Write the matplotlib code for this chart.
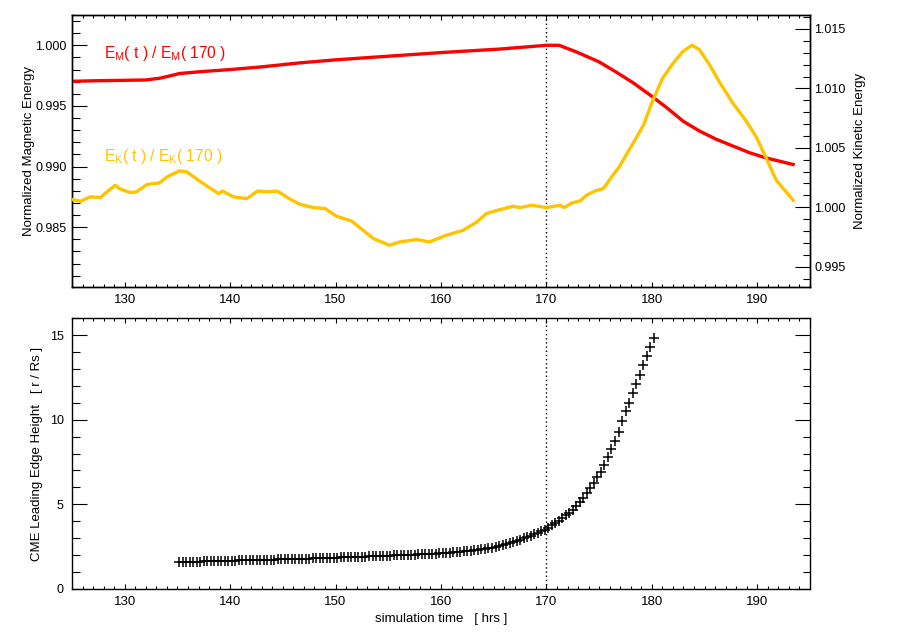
"""
Energy budget and CME leading-edge height vs simulation time.
Top: normalized magnetic (left axis) and kinetic (right axis) energy.
Bottom: CME leading edge height track.
"""

import matplotlib
matplotlib.use('Agg')          # no display
import matplotlib.pyplot as plt
from matplotlib.ticker import MultipleLocator, FormatStrFormatter
import numpy as np

plt.rcParams['font.family'] = ['Liberation Sans', 'DejaVu Sans']
plt.rcParams['mathtext.fontset'] = 'custom'
plt.rcParams['mathtext.rm'] = 'Liberation Sans'

RED = '#ff0000'
GOLD = '#ffc400'
FS = 9            # tick labels
FS_LAB = 9.5      # axis titles

T_REF = 170          # normalisation time [hrs]

# ── data ────────────────────────────────────────────────────────────────────

# magnetic energy E_M(t) / E_M(170)
em_t = [125.0, 127.5, 130.0, 132.0, 133.3, 134.3, 135.2, 137.0, 140.0, 143.0,
        146.6, 150.0, 155.0, 160.0, 165.6, 168.0, 170.0, 171.2, 172.8, 175.0,
        176.6, 178.2, 179.8, 181.4, 183.0, 184.5, 186.1, 187.7, 189.3, 190.8,
        193.4]
em_v = [0.99703, 0.99708, 0.99711, 0.99714, 0.99728, 0.99748, 0.99767, 0.99781,
        0.99800, 0.99822, 0.99855, 0.99880, 0.99910, 0.99940, 0.99969, 0.99986,
        1.00000, 1.00000, 0.99947, 0.99863, 0.99780, 0.99692, 0.99592, 0.99486,
        0.99372, 0.99294, 0.99225, 0.99169, 0.99113, 0.99072, 0.99017]

# kinetic energy E_K(t) / E_K(170)
ek_t = [125.0, 125.8, 126.7, 127.7, 128.3, 129.1, 129.5, 130.5, 131.1, 132.1,
        133.3, 134.0, 135.2, 135.9, 137.1, 138.4, 138.9, 139.3, 140.3, 141.6,
        142.6, 143.5, 144.5, 145.7, 146.6, 147.9, 149.0, 150.1, 151.5, 153.6,
        155.1, 156.1, 157.7, 158.9, 160.5, 162.1, 163.4, 164.3, 165.6, 166.8,
        167.5, 168.6, 170.0, 171.3, 171.7, 172.4, 173.2, 173.8, 174.6, 175.4,
        176.3, 176.9, 178.2, 179.2, 180.1, 181.0, 182.0, 182.9, 183.8, 184.5,
        185.5, 186.4, 187.7, 188.9, 189.9, 190.8, 191.8, 192.6, 193.4]
ek_v = [1.00065, 1.00050, 1.00087, 1.00082, 1.00129, 1.00185, 1.00157, 1.00124,
        1.00129, 1.00191, 1.00205, 1.00255, 1.00306, 1.00297, 1.00220, 1.00143,
        1.00115, 1.00136, 1.00087, 1.00073, 1.00136, 1.00130, 1.00135, 1.00067,
        1.00025, 0.99997, 0.99989, 0.99924, 0.99885, 0.99736, 0.99680, 0.99708,
        0.99728, 0.99708, 0.99764, 0.99806, 0.99876, 0.99947, 0.99980, 1.00008,
        0.99997, 1.00017, 0.99997, 1.00017, 0.99997, 1.00036, 1.00053, 1.00101,
        1.00137, 1.00157, 1.00269, 1.00339, 1.00536, 1.00690, 1.00901, 1.01083,
        1.01210, 1.01307, 1.01364, 1.01327, 1.01195, 1.01055, 1.00873, 1.00732,
        1.00592, 1.00423, 1.00227, 1.00143, 1.00059]

# CME leading edge height [r / Rs], one frame every 20 min from t = 135.17 h
CME_T0 = 135.17
CME_DT = 1.0 / 3.0
cme_h = [1.58, 1.58, 1.59, 1.60, 1.60, 1.61, 1.61, 1.62, 1.62, 1.63,
         1.63, 1.64, 1.64, 1.65, 1.65, 1.66, 1.66, 1.67, 1.67, 1.68,
         1.68, 1.69, 1.69, 1.70, 1.70, 1.71, 1.71, 1.72, 1.73, 1.73,
         1.74, 1.74, 1.75, 1.75, 1.76, 1.77, 1.77, 1.78, 1.79, 1.80,
         1.80, 1.81, 1.82, 1.83, 1.84, 1.84, 1.85, 1.86, 1.86, 1.87,
         1.88, 1.89, 1.89, 1.90, 1.91, 1.92, 1.92, 1.93, 1.94, 1.95,
         1.96, 1.97, 1.97, 1.98, 1.99, 2.00, 2.01, 2.02, 2.03, 2.04,
         2.05, 2.06, 2.07, 2.08, 2.09, 2.11, 2.12, 2.14, 2.15, 2.17,
         2.19, 2.21, 2.23, 2.25, 2.28, 2.30, 2.33, 2.36, 2.39, 2.42,
         2.48, 2.53, 2.59, 2.65, 2.71, 2.77, 2.84, 2.91, 2.98, 3.06,
         3.14, 3.22, 3.31, 3.40, 3.50, 3.62, 3.76, 3.90, 4.03, 4.17,
         4.34, 4.48, 4.65, 4.88, 5.12, 5.38, 5.68, 5.97, 6.26, 6.60,
         6.93, 7.33, 7.80, 8.29, 8.72, 9.26, 9.95, 10.50, 11.00, 11.60,
         12.13, 12.66, 13.25, 13.75, 14.30, 14.86]


# ── helpers ─────────────────────────────────────────────────────────────────

def idl_xticks(ax):
    ax.set_xlim(125, 195)
    ax.xaxis.set_major_locator(MultipleLocator(10))
    ax.xaxis.set_minor_locator(MultipleLocator(1))
    ax.tick_params(axis='x', which='both', direction='in', top=True,
                   bottom=True, labelsize=FS + 0.5, pad=5, width=0.8)
    ax.tick_params(axis='x', which='major', length=3.9)
    ax.tick_params(axis='x', which='minor', length=2.0)


def idl_yticks(ax, left=True, right=False, labelright=False):
    ax.tick_params(axis='y', which='both', direction='in', left=left,
                   right=right, labelleft=not labelright,
                   labelright=labelright, labelsize=FS, width=0.8)
    ax.tick_params(axis='y', which='major', length=10.8)
    ax.tick_params(axis='y', which='minor', length=5.4)


# ── plotting ────────────────────────────────────────────────────────────────

fig = plt.figure(figsize=(9, 6.37), dpi=100)

# top panel: energies
ax1 = fig.add_axes([0.08, 0.5495, 0.82, 0.427])
ax2 = ax1.twinx()

ax1.plot(em_t, em_v, color=RED, lw=2.4, zorder=3)
ax2.plot(ek_t, ek_v, color=GOLD, lw=2.4, zorder=3)
ax1.axvline(T_REF, color='black', lw=1.0, ls=(0, (1, 2)), zorder=2)

idl_xticks(ax1)
ax1.set_ylim(0.98007, 1.0025)
ax1.yaxis.set_major_locator(MultipleLocator(0.005))
ax1.yaxis.set_minor_locator(MultipleLocator(0.001))
ax1.yaxis.set_major_formatter(FormatStrFormatter('%.3f'))
idl_yticks(ax1, left=True, right=False)
ax1.tick_params(axis='y', pad=4)
ax1.set_ylabel('Normalized Magnetic Energy', fontsize=FS_LAB)
ax1.yaxis.set_label_coords(-0.050, 0.5)

ax2.set_ylim(0.99329, 1.01618)
ax2.yaxis.set_major_locator(MultipleLocator(0.005))
ax2.yaxis.set_minor_locator(MultipleLocator(0.001))
ax2.yaxis.set_major_formatter(FormatStrFormatter('%.3f'))
idl_yticks(ax2, left=False, right=True, labelright=True)
ax2.tick_params(axis='y', pad=3)
ax2.set_ylabel('Normalized Kinetic Energy', fontsize=FS_LAB, labelpad=6)

ax1.text(128.0, 0.99936, r'E$_\mathregular{M}$( t ) / E$_\mathregular{M}$( 170 )',
         color=RED, fontsize=11.2, ha='left', va='center')
ax1.text(128.0, 0.99080, r'E$_\mathregular{K}$( t ) / E$_\mathregular{K}$( 170 )',
         color=GOLD, fontsize=11.2, ha='left', va='center')

for a in (ax1, ax2):
    for sp in a.spines.values():
        sp.set_linewidth(1.0)

# bottom panel: CME height
ax3 = fig.add_axes([0.08, 0.0758, 0.82, 0.4245])
cme_t = CME_T0 + CME_DT * np.arange(len(cme_h))
ax3.plot(cme_t, cme_h, ls='none', marker='+', ms=7.5, mew=1.1, color='black')
ax3.axvline(T_REF, color='black', lw=1.0, ls=(0, (1, 2)), zorder=1)

idl_xticks(ax3)
ax3.set_ylim(0, 16)
ax3.yaxis.set_major_locator(MultipleLocator(5))
ax3.yaxis.set_minor_locator(MultipleLocator(1))
idl_yticks(ax3, left=True, right=True)
ax3.tick_params(axis='y', pad=6)
ax3.set_ylabel('CME Leading Edge Height   [ r / Rs ]', fontsize=FS_LAB)
ax3.yaxis.set_label_coords(-0.039, 0.5)
ax3.set_xlabel('simulation time   [ hrs ]', fontsize=FS_LAB, labelpad=4)
for sp in ax3.spines.values():
    sp.set_linewidth(1.0)

fig.savefig('out.png', dpi=100)
